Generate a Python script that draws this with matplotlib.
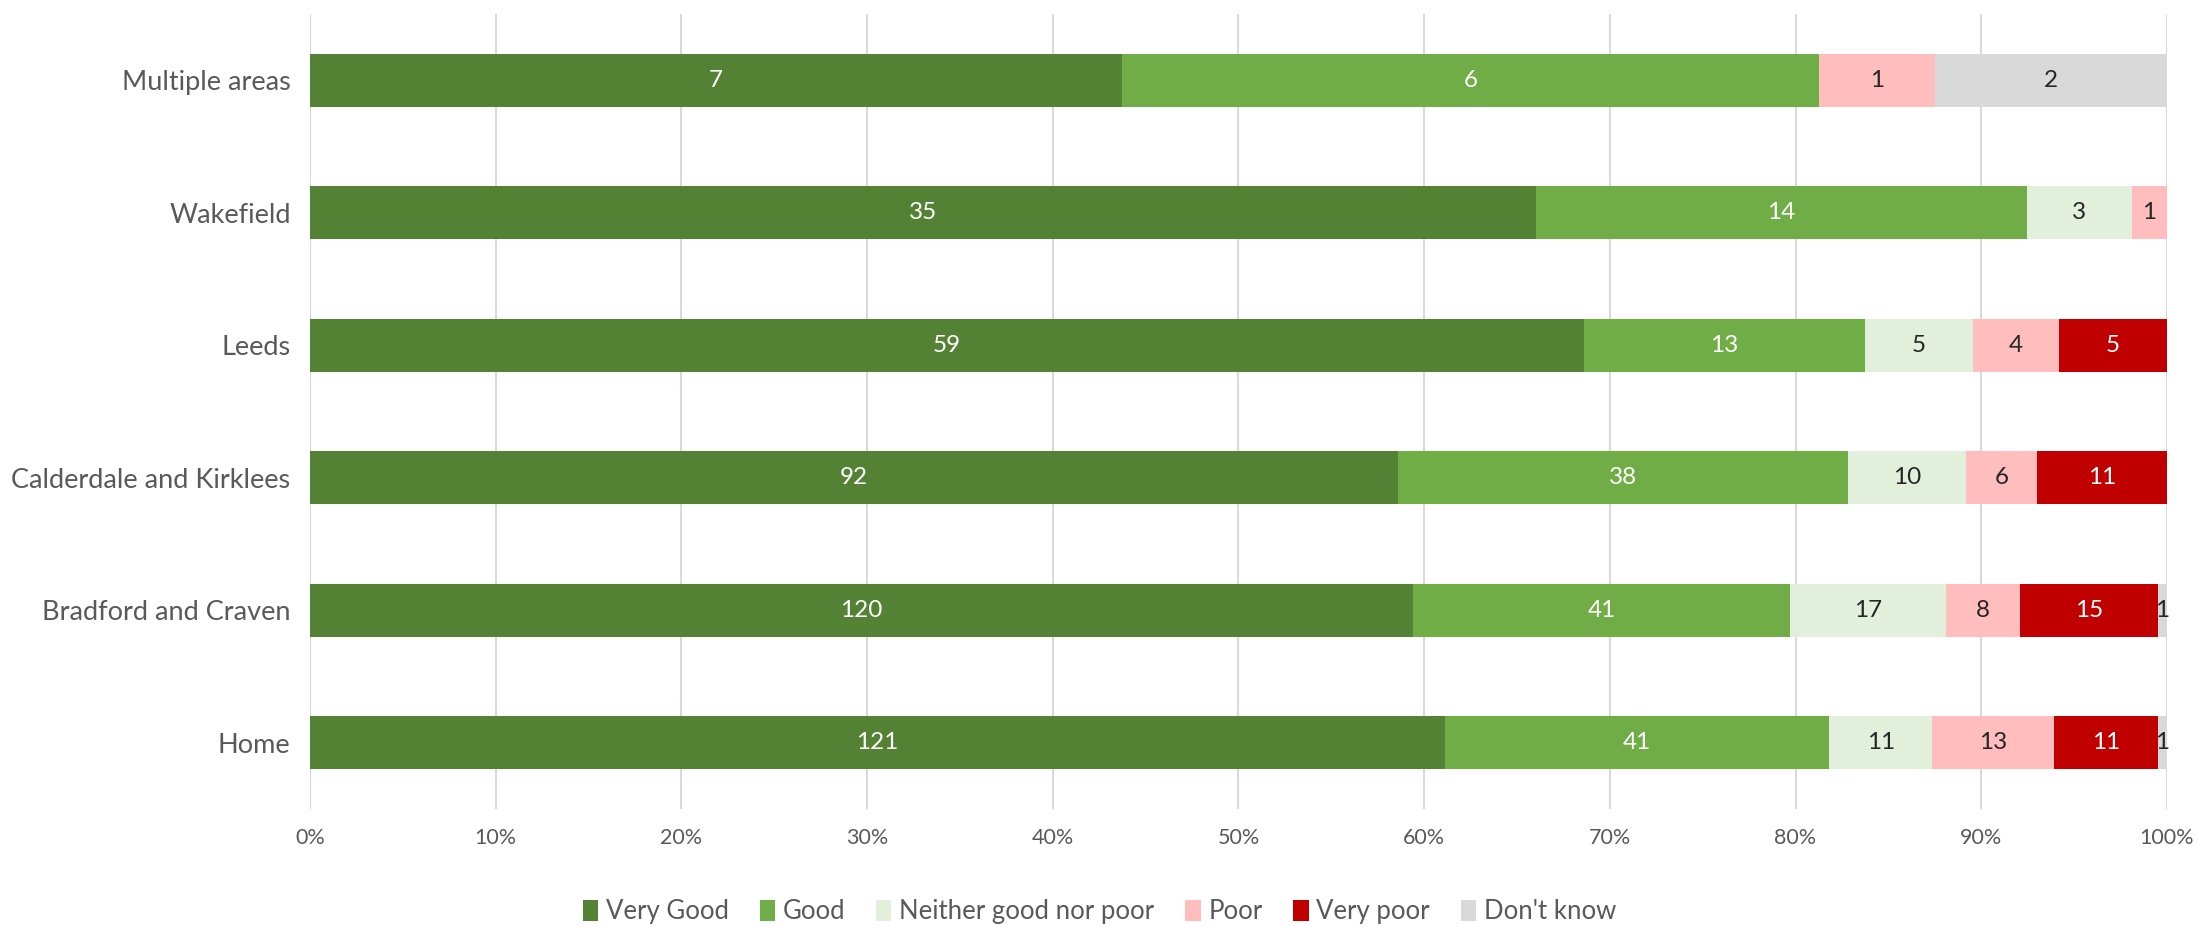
import matplotlib
matplotlib.use("Agg")
import matplotlib.pyplot as plt
from matplotlib.ticker import FuncFormatter, MultipleLocator
from matplotlib.patches import Patch
import numpy as np

areas = ["Multiple areas", "Wakefield", "Leeds", "Calderdale and Kirklees",
         "Bradford and Craven", "Home"]
ratings = ["Very Good", "Good", "Neither good nor poor", "Poor", "Very poor", "Don't know"]

very_good = [7, 35, 59, 92, 120, 121]
good = [6, 14, 13, 38, 41, 41]
neither = [0, 3, 5, 10, 17, 11]
poor = [1, 1, 4, 6, 8, 13]
very_poor = [0, 0, 5, 11, 15, 11]
dont_know = [2, 0, 0, 0, 1, 1]

colors = ["#548235", "#70AD47", "#E2EFDA", "#FFBDBD", "#C00000", "#D9D9D9"]
label_colors = ["white", "white", "#262626", "#262626", "white", "#262626"]

plt.rcParams["font.family"] = ["Lato", "DejaVu Sans"]
text_grey = "#595959"

counts = np.array([very_good, good, neither, poor, very_poor, dont_know], dtype=float)
totals = counts.sum(axis=0)
shares = counts / totals

fig = plt.figure(figsize=(21.99, 9.27), dpi=100)
ax = fig.add_axes([0.141, 0.1273, 0.8444, 0.8576])

y = np.arange(len(areas))
left = np.zeros(len(areas))
for i, name in enumerate(ratings):
    ax.barh(y, shares[i], left=left, height=0.4, color=colors[i], label=name, zorder=2)
    for j in range(len(areas)):
        if counts[i, j] > 0:
            ax.text(left[j] + shares[i, j] / 2, y[j], f"{int(counts[i, j])}",
                    ha="center", va="center", fontsize=17.5, color=label_colors[i],
                    zorder=3)
    left += shares[i]

ax.set_xlim(0, 1)
ax.set_ylim(len(areas) - 0.5, -0.5)
ax.set_yticks(y)
ax.set_yticklabels(areas, fontsize=19.5, color=text_grey)
ax.xaxis.set_major_locator(MultipleLocator(0.1))
ax.xaxis.set_major_formatter(FuncFormatter(lambda v, _: f"{v*100:.0f}%"))
ax.tick_params(axis="x", labelsize=15.5, colors=text_grey, length=0, pad=14)
ax.tick_params(axis="y", length=0, pad=14)
ax.grid(axis="x", color="#D9D9D9", linewidth=1.5, zorder=0)
for s in ax.spines.values():
    s.set_visible(False)

handles = [Patch(facecolor=c, edgecolor="none") for c in colors]
fig.legend(handles, ratings, loc="center", bbox_to_anchor=(0.5, 0.0162), ncol=6,
           frameon=False, handlelength=0.6, handleheight=0.9,
           handletextpad=0.3, columnspacing=1.2, labelcolor=text_grey,
           prop={"size": 18.5})

fig.savefig("out.png", dpi=100)
